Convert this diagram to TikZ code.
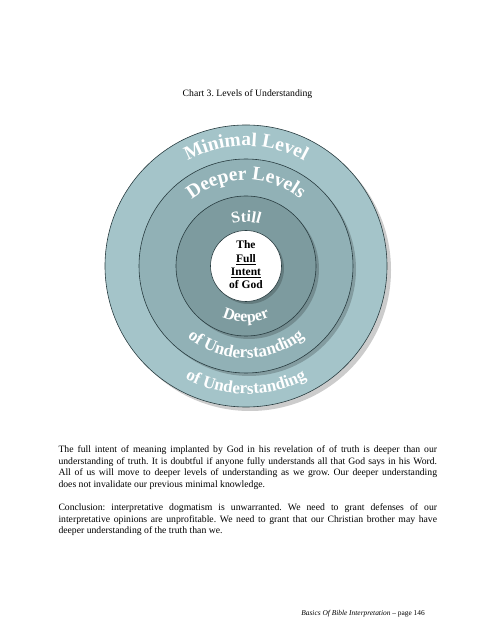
\documentclass[tikz,border=0pt]{standalone}
\usepackage{fontspec}
\setmainfont{Liberation Serif}
\usetikzlibrary{decorations.text}
\definecolor{ringA}{RGB}{164,196,201}
\definecolor{ringB}{RGB}{145,177,182}
\definecolor{ringC}{RGB}{125,155,159}
\definecolor{edgecol}{RGB}{40,60,64}
\newcommand\arcfontL{\fontsize{19.5}{20}\selectfont\bfseries}
\newcommand\arcfontM{\fontsize{17}{18}\selectfont\bfseries}
\newcommand\arcfontS{\fontsize{16}{17}\selectfont\bfseries}
\setlength\parindent{0pt}
\frenchspacing
\begin{document}
\frenchspacing
\begin{tikzpicture}[x=1pt,y=1pt,
  disc/.style={circle, inner sep=0pt, minimum size=#1, draw=edgecol, line width=0.6pt},
  discshadow/.style={circle, inner sep=0pt, minimum size=#1, fill=black, fill opacity=0.2},
  arctext/.style={decorate, decoration={text along path, text align=center, text color=white, text={#1}}},
  bodytext/.style={font=\fontsize{9.7}{11.6}\selectfont\frenchspacing, inner sep=0pt}
]
\useasboundingbox[fill=white] (0,0) rectangle (495,640);
\coordinate (c) at (246,374);

% title
\node[bodytext, anchor=base] (title) at (247.5,543) {Chart 3. Levels of Understanding};

% discs with shadows
\node[circle, inner sep=0pt, minimum size=282pt, fill=gray!40] (shA) at ([shift={(4,-4)}]c) {};
\node[disc=282pt, fill=ringA] (ringA) at (c) {};
\node[discshadow=214pt] (shB) at ([shift={(3,-3)}]c) {};
\node[disc=214pt, fill=ringB] (ringB) at (c) {};
\node[discshadow=140pt] (shC) at ([shift={(3,-3)}]c) {};
\node[disc=140pt, fill=ringC] (ringC) at (c) {};
\node[discshadow=71pt] (shD) at ([shift={(2.5,-2.5)}]c) {};
\node[disc=71pt, fill=white] (core) at (c) {};

% curved labels
\path[arctext={|\arcfontL|Minimal Level}] (c) ++(160:120pt) arc[start angle=160, end angle=20, radius=120pt];
\path[arctext={|\arcfontM|of Understanding}] (c) ++(200:128pt) arc[start angle=200, end angle=340, radius=128pt];
\path[arctext={|\arcfontL|Deeper Levels}] (c) ++(165:86pt) arc[start angle=165, end angle=15, radius=86pt];
\path[arctext={|\arcfontM|of Understanding}] (c) ++(190:92pt) arc[start angle=190, end angle=350, radius=92pt];
\path[arctext={|\arcfontS|Still}] (c) ++(150:44pt) arc[start angle=150, end angle=30, radius=44pt];
\path[arctext={|\arcfontS|Deeper}] (c) ++(200:56pt) arc[start angle=200, end angle=340, radius=56pt];

% core text
\node[align=center, font=\fontsize{11.5}{13.3}\selectfont\bfseries] (coretext) at ([yshift=1pt]c) {The\\\underline{Full}\\\underline{Intent}\\of God};

% body text
\node[bodytext, text width=378.6pt, align=justify, anchor=base west] (body) at (58.3,187.5) {%
The full intent of meaning implanted by God in his revelation of of truth is deeper than our\linebreak
understanding of truth. It is doubtful if anyone fully understands all that God says in his Word.\linebreak
All of us will move to deeper levels of understanding as we grow. Our deeper understanding\linebreak
does not invalidate our previous minimal knowledge.\par\vspace{11.6pt}
Conclusion: interpretative dogmatism is unwarranted. We need to grant defenses of our\linebreak
interpretative opinions are unprofitable. We need to grant that our Christian brother may have\linebreak
deeper understanding of the truth than we.};

% footer
\node[font=\fontsize{7.4}{9}\selectfont, inner sep=0pt, anchor=base east] (footer) at (425,24.5) {\textit{Basics Of Bible Interpretation} – page 146};
\end{tikzpicture}
\end{document}
